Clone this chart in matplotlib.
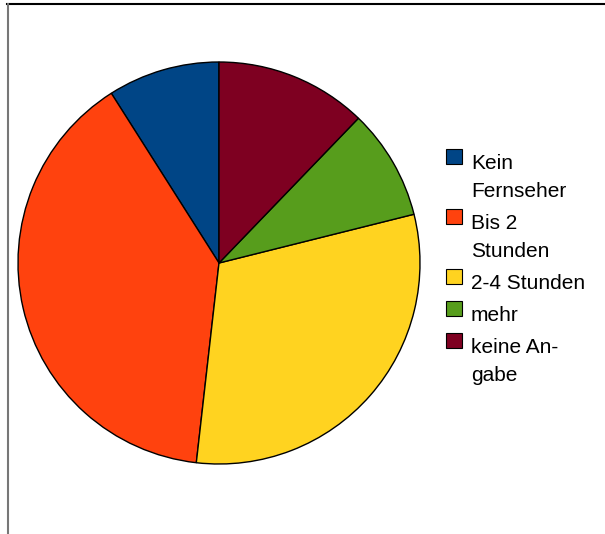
import matplotlib.pyplot as plt
from matplotlib.patches import Rectangle
from matplotlib.lines import Line2D

plt.rcParams['font.family'] = ['Liberation Sans', 'DejaVu Sans']

# share of answers per category (%)
labels = ["Kein\nFernseher", "Bis 2\nStunden", "2-4 Stunden", "mehr", "keine An-\ngabe"]
shares = [9.0, 39.2, 30.7, 8.9, 12.2]
colors = ["#004586", "#ff420e", "#ffd320", "#579d1c", "#7e0021"]

W, H = 605, 534
fig = plt.figure(figsize=(W / 100, H / 100), dpi=100)

# pie, about 402 px across
ax = fig.add_axes([18 / W, (H - 464) / H, 402 / W, 402 / H])
ax.pie(shares, colors=colors, startangle=90, counterclock=True,
       wedgeprops=dict(edgecolor="black", linewidth=1))
ax.set_xlim(-1.0, 1.0)
ax.set_ylim(-1.0, 1.0)
ax.axis("off")

# frame lines (top and left only)
fig.add_artist(Line2D([7 / W, 1], [1 - 4 / H, 1 - 4 / H], color="black",
                      linewidth=1.5, transform=fig.transFigure))
fig.add_artist(Line2D([7.5 / W, 7.5 / W], [0, 1 - 4 / H], color="#777777",
                      linewidth=1.5, transform=fig.transFigure))

# legend drawn by hand so the swatch sits on the first line
line_h = 28
step = 32
base = 169
for lab, col in zip(labels, colors):
    fig.add_artist(Rectangle((446 / W, (H - base + 5) / H), 16 / W, 15 / H,
                             facecolor=col, edgecolor="black", linewidth=0.8,
                             transform=fig.transFigure))
    parts = lab.split("\n")
    for i, part in enumerate(parts):
        fig.text(471 / W, (H - base - i * line_h) / H, part, fontsize=15,
                 va="baseline", ha="left")
    base += (len(parts) - 1) * line_h + step

fig.savefig("out.png", dpi=100)
